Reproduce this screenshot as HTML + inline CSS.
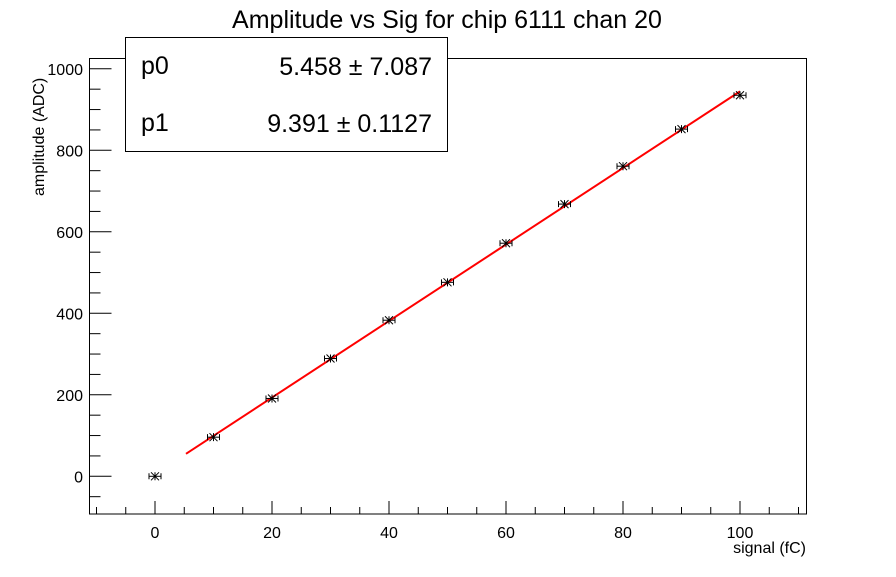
<!DOCTYPE html>
<html><head><meta charset="utf-8"><style>
body{margin:0;background:#fff;}
svg text{font-family:"Liberation Sans",sans-serif;fill:#000;}
</style></head><body>
<svg width="896" height="572" xmlns="http://www.w3.org/2000/svg">
<rect width="896" height="572" fill="#fff"/>
<text x="447" y="28" font-size="25" text-anchor="middle">Amplitude vs Sig for chip 6111 chan 20</text>
<rect x="89.5" y="58.5" width="717" height="455.5" fill="none" stroke="#000" stroke-width="1"/>
<g id="axes"></g>
<g id="marks"></g>
<text x="806" y="553" font-size="16" text-anchor="end">signal (fC)</text>
<text transform="translate(44,196) rotate(-90)" font-size="16" text-anchor="start">amplitude (ADC)</text>
<g>
<rect x="125.5" y="37.5" width="322" height="114" fill="#fff" stroke="#000"/>
<text x="141" y="74" font-size="25">p0</text>
<text x="432" y="75" font-size="25" text-anchor="end">5.458 ± 7.087</text>
<text x="141" y="131" font-size="25">p1</text>
<text x="432" y="132" font-size="25" text-anchor="end">9.391 ± 0.1127</text>
</g>
</svg>
<script>
const xValues=[0,10,20,30,40,50,60,70,80,90,100];
const yValues=[0,96,191,289,383,476,572,668,761,852,935];
const xTicks=[0,20,40,60,80,100];
const yTicks=[0,200,400,600,800,1000];
const fitP0=5.458, fitP1=9.391, fitRange=[5.3,100];
const X0=155,XS=5.85,Y0=476.3,YS=0.4075;
const L=89.5,R=806.5,T=58.5,B=514;
const sx=v=>X0+v*XS, sy=v=>Y0-v*YS;
const NS="http://www.w3.org/2000/svg";
const ax=document.getElementById('axes'), mk=document.getElementById('marks');
function mkEl(t,a,p){const e=document.createElementNS(NS,t);for(const k in a)e.setAttribute(k,a[k]);p.appendChild(e);return e;}
// x minor ticks
for(let v=-10;v<=110;v+=5){const x=sx(v);if(x<L||x>R)continue;const major=v%20===0;
const t=mkEl('line',{x1:x,x2:x,y1:B,y2:B-(major?13:7),stroke:'#000'},ax);

}
xTicks.forEach(v=>{const t=mkEl('text',{x:sx(v),y:538,'font-size':16,'text-anchor':'middle'},ax);t.textContent=v;

});
for(let v=-50;v<=1000;v+=50){const y=sy(v);if(y<T||y>B)continue;const major=v%200===0;
const t=mkEl('line',{x1:L,x2:L+(major?22:11),y1:y,y2:y,stroke:'#000'},ax);

}
yTicks.forEach(v=>{const t=mkEl('text',{x:83,y:sy(v)+6,'font-size':16,'text-anchor':'end'},ax);t.textContent=v;

});
const fl=mkEl('line',{x1:sx(fitRange[0]),y1:sy(fitP0+fitP1*fitRange[0]),x2:sx(fitRange[1]),y2:sy(fitP0+fitP1*fitRange[1]),stroke:'#f00','stroke-width':2},mk);


xValues.forEach((xv,i)=>{const x=sx(xv),y=sy(yValues[i]);
const g=mkEl('g',{stroke:'#000','stroke-width':1},mk);


mkEl('line',{x1:x-6,x2:x+6,y1:y,y2:y},g);
mkEl('line',{x1:x-6,x2:x-6,y1:y-3,y2:y+3},g);
mkEl('line',{x1:x+6,x2:x+6,y1:y-3,y2:y+3},g);
mkEl('line',{x1:x,x2:x,y1:y-4,y2:y+4},g);
mkEl('line',{x1:x-4,x2:x+4,y1:y-4,y2:y+4},g);
mkEl('line',{x1:x-4,x2:x+4,y1:y+4,y2:y-4},g);});
</script>
</body></html>
